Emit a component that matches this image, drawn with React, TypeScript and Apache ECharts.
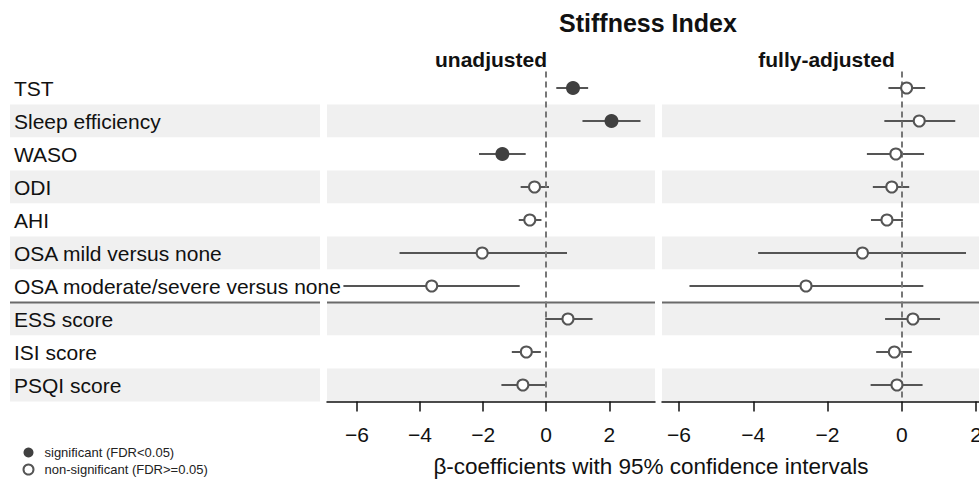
import React, { useEffect, useRef } from 'react';
import * as echarts from 'echarts';

const categories = [
  'TST',
  'Sleep efficiency',
  'WASO',
  'ODI',
  'AHI',
  'OSA mild versus none',
  'OSA moderate/severe versus none',
  'ESS score',
  'ISI score',
  'PSQI score',
];
const sectionStart = 'ESS score';

const unadjEst = [0.85, 2.07, -1.39, -0.37, -0.52, -2.03, -3.63, 0.69, -0.63, -0.74];
const unadjLo = [0.32, 1.15, -2.13, -0.81, -0.87, -4.65, -6.43, -0.03, -1.09, -1.42];
const unadjHi = [1.33, 2.99, -0.65, 0.09, -0.15, 0.66, -0.84, 1.47, -0.17, 0.0];
const unadjSig = [true, true, true, false, false, false, false, false, false, false];

const adjEst = [0.13, 0.47, -0.16, -0.27, -0.4, -1.06, -2.58, 0.3, -0.2, -0.13];
const adjLo = [-0.36, -0.47, -0.94, -0.78, -0.83, -3.87, -5.72, -0.45, -0.69, -0.84];
const adjHi = [0.63, 1.44, 0.6, 0.2, 0.03, 1.73, 0.58, 1.03, 0.27, 0.56];
const adjSig = [false, false, false, false, false, false, false, false, false, false];

const tickValues = [-6, -4, -2, 0, 2];

const sigName = 'significant (FDR<0.05)';
const nonSigName = 'non-significant (FDR>=0.05)';

const FONT = '"Liberation Sans", Arial, Helvetica, sans-serif';

export default function App() {
  const ref = useRef<HTMLDivElement>(null);

  useEffect(() => {
    if (!ref.current) return;
    const chart = echarts.init(ref.current, undefined, { renderer: 'svg' });
    const breakIdx = categories.indexOf(sectionStart);

    const separatorSeries = (gi: number) => ({
      type: 'custom',
      xAxisIndex: gi,
      yAxisIndex: gi,
      silent: true,
      z: 3,
      data: [[0, breakIdx]],
      renderItem: (params: any, api: any) => {
        const cs = params.coordSys;
        const p = api.coord([0, api.value(1)]);
        const h = api.size([0, 1])[1];
        const y = p[1] - h / 2;
        return {
          type: 'line',
          shape: { x1: cs.x, y1: y, x2: cs.x + cs.width, y2: y },
          style: { stroke: '#6a6a6a', lineWidth: 2 },
        };
      },
    });

    const panelSeries = (gi: number, est: number[], lo: number[], hi: number[], sig: boolean[]) => [
      separatorSeries(gi),
      {
        type: 'line',
        xAxisIndex: gi,
        yAxisIndex: gi,
        data: [],
        silent: true,
        z: 2,
        markLine: {
          silent: true,
          symbol: ['none', 'none'],
          label: { show: false },
          lineStyle: { type: [6, 4], color: '#777', width: 2 },
          data: [{ xAxis: 0 }],
        },
      },
      {
        type: 'custom',
        xAxisIndex: gi,
        yAxisIndex: gi,
        silent: true,
        z: 4,
        encode: { x: [0, 1], y: 2 },
        data: categories.map((_, i) => [lo[i], hi[i], i]),
        renderItem: (params: any, api: any) => {
          const a = api.coord([api.value(0), api.value(2)]);
          const b = api.coord([api.value(1), api.value(2)]);
          return {
            type: 'line',
            shape: { x1: a[0], y1: a[1], x2: b[0], y2: b[1] },
            style: { stroke: '#555', lineWidth: 2 },
          };
        },
      },
      {
        name: sigName,
        type: 'scatter',
        xAxisIndex: gi,
        yAxisIndex: gi,
        z: 6,
        symbol: 'circle',
        symbolSize: 14,
        itemStyle: { color: '#404040', opacity: 1 },
        data: categories.map((_, i) => [est[i], i]).filter((_, i) => sig[i]),
      },
      {
        name: nonSigName,
        type: 'scatter',
        xAxisIndex: gi,
        yAxisIndex: gi,
        z: 6,
        symbol: 'circle',
        symbolSize: 11,
        itemStyle: { color: '#ffffff', borderColor: '#555', borderWidth: 2, opacity: 1 },
        data: categories.map((_, i) => [est[i], i]).filter((_, i) => !sig[i]),
      },
    ];

    const axisCommon = {
      type: 'value',
      splitLine: { show: false },
      axisLine: { show: true, onZero: false, lineStyle: { color: '#111', width: 1.5 } },
      axisTick: { show: true, length: 10, customValues: tickValues, lineStyle: { color: '#111', width: 1.5 } },
      axisLabel: {
        customValues: tickValues,
        margin: 22,
        fontSize: 21,
        color: '#111',
        fontFamily: FONT,
        formatter: (v: number) => (v < 0 ? '\u2212' + Math.abs(v) : String(v)),
      },
    };

    const yAxisFor = (gi: number) => ({
      type: 'category',
      gridIndex: gi,
      data: categories,
      inverse: true,
      axisLine: { show: false },
      axisTick: { show: false, interval: 0 },
      splitLine: { show: false },
      splitArea: { show: true, interval: 0, areaStyle: { color: ['#ffffff', '#f0f0f0'] } },
      axisLabel:
        gi === 0
          ? { show: true, inside: true, interval: 0, margin: 4, fontSize: 21, color: '#111', fontFamily: FONT }
          : { show: false, interval: 0 },
    });

    chart.setOption({
      animation: false,
      backgroundColor: '#ffffff',
      textStyle: { fontFamily: FONT },
      title: [
        {
          text: 'Stiffness Index',
          left: 648,
          top: 10,
          padding: 0,
          textAlign: 'center',
          textStyle: { fontSize: 25, fontWeight: 'bold', color: '#111', fontFamily: FONT },
        },
        {
          text: 'unadjusted',
          left: 491,
          top: 49,
          padding: 0,
          textAlign: 'center',
          textStyle: { fontSize: 21, fontWeight: 'bold', color: '#111', fontFamily: FONT },
        },
        {
          text: 'fully-adjusted',
          left: 826.5,
          top: 49,
          padding: 0,
          textAlign: 'center',
          textStyle: { fontSize: 21, fontWeight: 'bold', color: '#111', fontFamily: FONT },
        },
        {
          text: '\u03b2-coefficients with 95% confidence intervals',
          left: 651,
          top: 455,
          padding: 0,
          textAlign: 'center',
          textStyle: { fontSize: 22.5, fontWeight: 'normal', color: '#111', fontFamily: FONT },
        },
      ],
      legend: {
        orient: 'vertical',
        left: 22.5,
        top: 446,
        padding: 0,
        itemWidth: 22,
        itemHeight: 10,
        itemGap: 4,
        selectedMode: false,
        data: [
          { name: sigName, icon: 'circle' },
          { name: nonSigName, icon: 'circle' },
        ],
        textStyle: { fontSize: 13, color: '#222', fontFamily: FONT },
      },
      grid: [
        { left: 10, top: 71.5, width: 310, height: 330, outerBoundsMode: 'none', containLabel: false },
        { left: 327, top: 71.5, width: 328, height: 330, outerBoundsMode: 'none', containLabel: false },
        { left: 662, top: 71.5, width: 317, height: 330, outerBoundsMode: 'none', containLabel: false },
      ],
      xAxis: [
        { gridIndex: 0, type: 'value', min: 0, max: 1, show: false },
        { gridIndex: 1, min: -6.95, max: 3.45, ...axisCommon },
        { gridIndex: 2, min: -6.46, max: 2.08, ...axisCommon },
      ],
      yAxis: [yAxisFor(0), yAxisFor(1), yAxisFor(2)],
      series: [
        separatorSeries(0),
        ...panelSeries(1, unadjEst, unadjLo, unadjHi, unadjSig),
        ...panelSeries(2, adjEst, adjLo, adjHi, adjSig),
      ],
    });

    return () => chart.dispose();
  }, []);

  return (
    <div
      ref={ref}
      style={{ position: 'fixed', left: 0, top: 0, width: 979, height: 481, background: '#fff' }}
    />
  );
}
